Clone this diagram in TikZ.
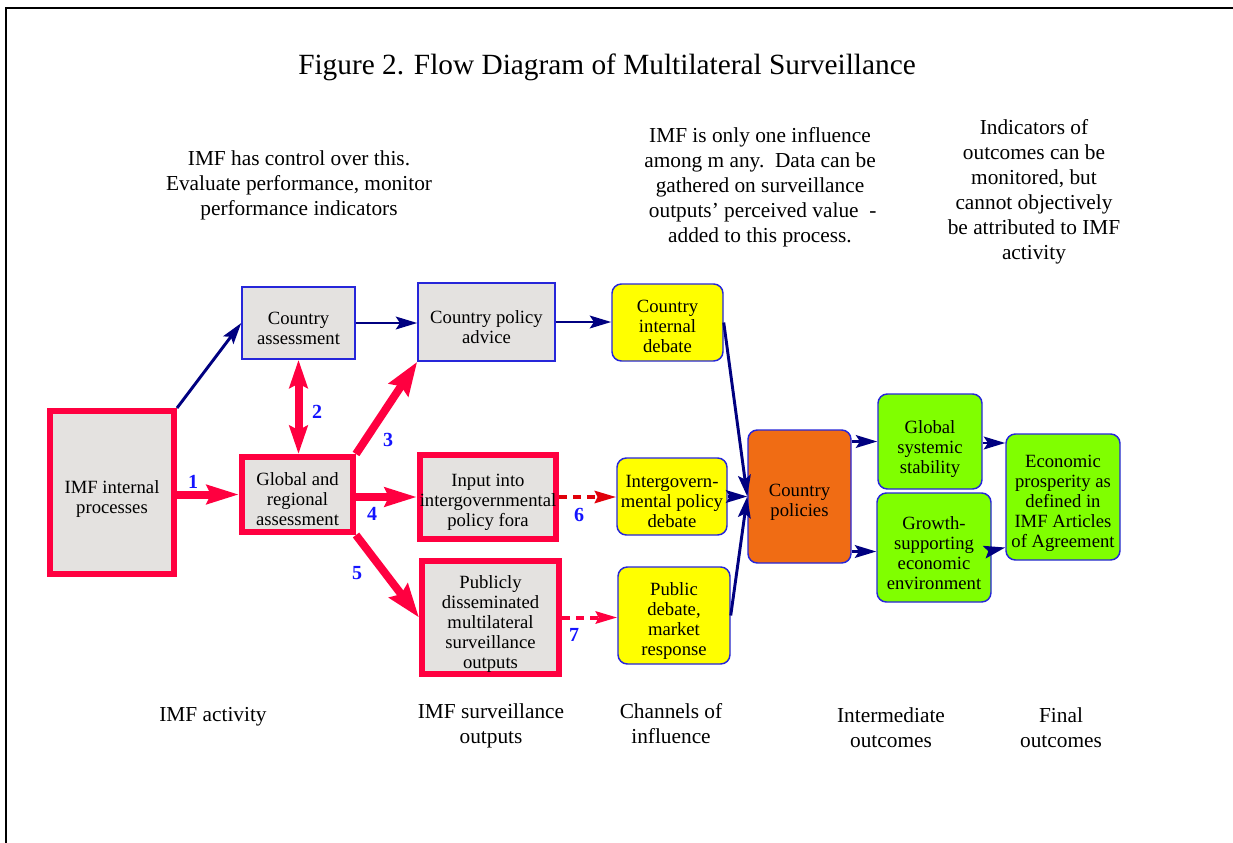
\documentclass[tikz,border=0pt]{standalone}
\usepackage{fontspec}
\setmainfont{Liberation Serif}
\usetikzlibrary{arrows.meta,calc}
\definecolor{boxgray}{HTML}{E4E2E0}
\definecolor{boxblue}{HTML}{2626D9}
\definecolor{redline}{HTML}{FF0040}
\definecolor{darkred}{HTML}{E0000A}
\definecolor{navyline}{HTML}{000080}
\definecolor{numblue}{HTML}{1414FF}
\definecolor{yel}{HTML}{FFFF00}
\definecolor{grn}{HTML}{80FF00}
\definecolor{org}{HTML}{F06C14}
\tikzset{
  base/.style={inner sep=0pt, align=center, font=\fontsize{14}{15}\selectfont},
  sz/.style 2 args={minimum width={#1*0.75pt}, minimum height={#2*0.75pt}},
  txt/.style n args={3}{label={[base, name=#1, yshift={-#2*0.75pt}]center:{#3}}},
  graybox/.style={inner sep=0pt, draw=boxblue, fill=boxgray, line width=1.1pt},
  redbox/.style={inner sep=0pt, draw=redline, fill=boxgray, line width=4.5pt},
  yelbox/.style={inner sep=0pt, draw=boxblue, fill=yel, rounded corners=7pt, line width=1.1pt},
  grnbox/.style={inner sep=0pt, draw=boxblue, fill=grn, rounded corners=7pt, line width=1.1pt},
  orgbox/.style={inner sep=0pt, draw=boxblue, fill=org, rounded corners=7pt, line width=1.1pt},
  navyarrow/.style={draw=navyline, line width=2.2pt, -{Stealth[length=16pt,width=9.5pt,inset=3pt]}},
  redarrow/.style={draw=redline, line width=6pt, -{Stealth[length=24pt,width=14pt,inset=3pt]}},
  bigred/.style={draw=redline, line width=6pt, -{Stealth[length=25pt,width=17pt,inset=3pt]}},
  redboth/.style={draw=redline, line width=6pt, {Stealth[length=21pt,width=13.5pt,inset=3pt]}-{Stealth[length=21pt,width=13.5pt,inset=3pt]}},
  reddash/.style={line width=3pt, dash pattern=on 6pt off 4.5pt, -{Stealth[length=16pt,width=9pt,inset=2pt]}},
  num/.style={inner sep=0pt, text=numblue, font=\fontsize{15}{15}\selectfont\bfseries},
  note/.style={inner sep=0pt, align=center, font=\fontsize{16}{18.8}\selectfont},
}
\begin{document}
\begin{tikzpicture}[x=0.75pt,y=-0.75pt]
\useasboundingbox (0,0) rectangle (1233,843);
\draw[line width=1.5pt] (6,844) -- (6,8) -- (1234,8);

% title and notes
\node[inner sep=0pt, font=\fontsize{22}{26}\selectfont] (title) at (607,67) {Figure 2. Flow Diagram of Multilateral Surveillance};
\node[note] (n1) at (299,185) {IMF has control over this.\\Evaluate performance, monitor\\performance indicators};
\node[note] (n2) at (760,187) {IMF is only one influence\\among m any.\ \ Data can be\\gathered on surveillance\\\ outputs' perceived value\ \ -\\added to this process.};
\node[note] (n3) at (1034,192) {Indicators of\\outcomes can be\\monitored, but\\cannot objectively\\be attributed to IMF\\activity};
\node[note] (b1) at (213,717) {IMF activity};
\node[note] (b2) at (491,726) {IMF surveillance\\outputs};
\node[note] (b3) at (671,724) {Channels of\\influence};
\node[note] (b4) at (891,728) {Intermediate\\outcomes};
\node[note] (b5) at (1061,728) {Final\\outcomes};

% boxes
\node[redbox, sz={124}{163}, txt={imf-t}{7}{IMF internal\\processes}] (imf) at (112,492.5) {};
\node[graybox, sz={113}{72}, txt={ca-t}{5}{Country\\assessment}] (ca) at (298.5,323) {};
\node[graybox, sz={137}{78}, txt={cpa-t}{5}{Country policy\\advice}] (cpa) at (486.5,322) {};
\node[redbox, sz={111}{75}, txt={gra-t}{5}{Global and\\regional\\assessment}] (gra) at (297.5,494.5) {};
\node[redbox, sz={136}{84}, txt={inp-t}{5}{Input into\\intergovernmental\\policy fora}] (inp) at (488,497) {};
\node[redbox, sz={137}{113}, txt={pub-t}{7}{Publicly\\disseminated\\multilateral\\surveillance\\outputs}] (pub) at (490.5,617.5) {};
\node[yelbox, sz={111}{77}, txt={cid-t}{4}{Country\\internal\\debate}] (cid) at (667.5,322.5) {};
\node[yelbox, sz={110}{77}, txt={igd-t}{5}{Intergovern-\\mental policy\\debate}] (igd) at (672,496.5) {};
\node[yelbox, sz={112}{97}, txt={pdm-t}{6}{Public\\debate,\\market\\response}] (pdm) at (674,615.5) {};
\node[orgbox, sz={103}{133}, txt={cp-t}{6}{Country\\policies}] (cp) at (799.5,496.5) {};
\node[grnbox, sz={104}{95}, txt={gss-t}{8}{Global\\systemic\\stability}] (gss) at (930,441.5) {};
\node[grnbox, sz={114}{109}, txt={gro-t}{6}{Growth-\\supporting\\economic\\environment}] (gro) at (934,547.5) {};
\node[grnbox, sz={114}{126}, txt={eco-t}{6}{Economic\\prosperity as\\defined in\\IMF Articles\\of Agreement}] (eco) at (1063,497) {};

% navy connectors
\draw[navyarrow] (imf.north east) -- (ca.west);
\draw[navyarrow] (ca.east) -- (ca.east -| cpa.west);
\draw[navyarrow] (cpa.east) -- (cpa.east -| cid.west);
\draw[navyarrow] (cid.east) -- (cp.west);
\draw[navyarrow] (igd.east) -- (cp.west);
\draw[navyarrow] (pdm.east) -- (cp.west);
\draw[navyarrow] (cp.east |- gss.west) -- (gss.west);
\draw[navyarrow] ($(cp.east |- gro.west)+(0,4)$) -- ($(gro.west)+(0,4)$);
\draw[navyarrow] ($(gss.east)+(0,1.5)$) -- ($(eco.west |- gss.east)+(0,1.5)$);
\draw[navyarrow] ($(gro.east)+(0,3)$) -- ($(eco.west |- gro.east)+(0,0)$);

% red connectors
\draw[redarrow] (imf.east |- gra.west) -- (gra.west);
\draw[redboth] (ca.south) -- (ca.south |- gra.north);
\draw[bigred] (gra.north east) -- (cpa.south west);
\draw[redarrow] (gra.east |- inp.west) -- (inp.west);
\draw[bigred] (gra.south east) -- (pub.west);
\draw[reddash, draw=darkred] (inp.east) -- (inp.east -| igd.west);
\draw[reddash, draw=redline] (pub.east) -- (pub.east -| pdm.west);

% numbers
\node[num] (l1) at (193,482) {1};
\node[num] (l2) at (317,412) {2};
\node[num] (l3) at (388,440) {3};
\node[num] (l4) at (372,514) {4};
\node[num] (l5) at (357,573) {5};
\node[num] (l6) at (579,515) {6};
\node[num] (l7) at (574,635) {7};
\end{tikzpicture}
\end{document}
